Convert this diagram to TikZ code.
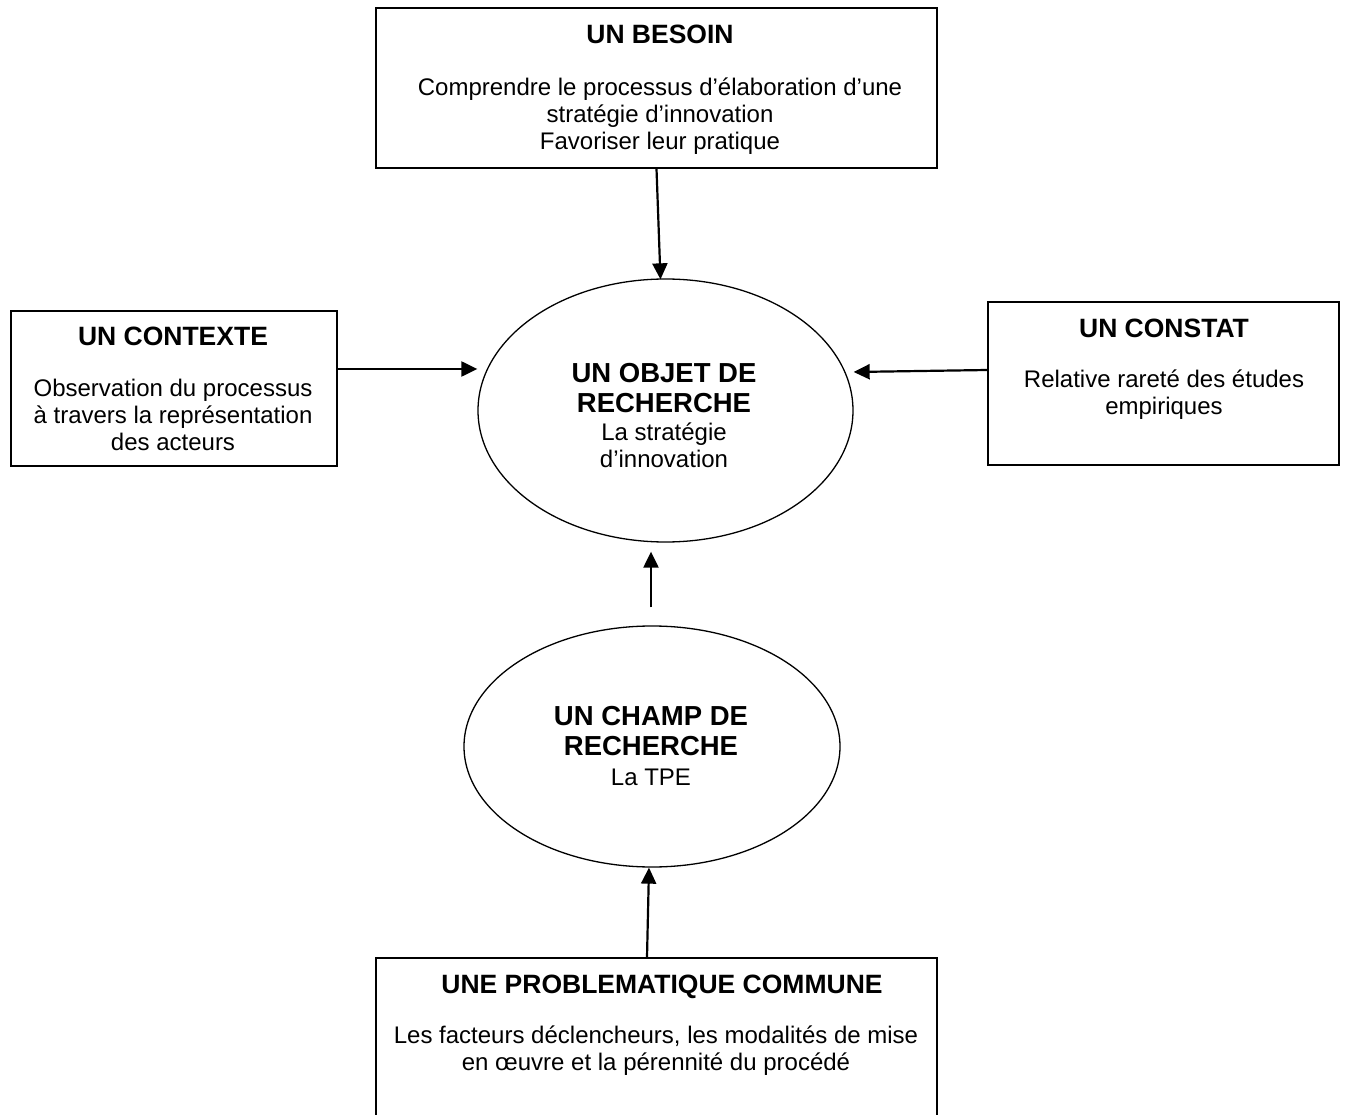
\documentclass[tikz,border=0pt]{standalone}
\usepackage{fontspec}
\setmainfont{Liberation Sans}
\usetikzlibrary{arrows.meta,calc,shapes.geometric}
\newcommand\myStrut{\rule{0pt}{24pt}}
\begin{document}
\begin{tikzpicture}[x=1pt,y=-1pt,
  rectbox/.style={draw, line width=1.3pt, rectangle, inner sep=0pt},
  oval/.style={draw, line width=1.3pt, ellipse, inner sep=0pt},
  ttl/.style={inner sep=0pt, align=center, font=\bfseries\fontsize{26.5}{30}\selectfont},
  ottl/.style={inner sep=0pt, align=center, font=\bfseries\fontsize{27.5}{30}\selectfont},
  bdy/.style={inner sep=0pt, align=center, font=\fontsize{24}{27}\selectfont},
  arr/.style={line width=2.2pt, -{Triangle[width=15pt,length=16pt]}}]
\clip (0,0) rectangle (1345,1115);
\fill[white] (0,0) rectangle (1345,1115);

% shapes
\node[rectbox, minimum width=561pt, minimum height=160pt] (besoin) at (656.5,88) {};
\node[rectbox, minimum width=326pt, minimum height=155pt] (contexte) at (174,388.5) {};
\node[rectbox, minimum width=351pt, minimum height=163pt] (constat) at (1163.5,383.5) {};
\node[rectbox, minimum width=561pt, minimum height=172pt] (prob) at (656.5,1044) {};
\node[oval, minimum width=375pt, minimum height=263pt] (objet) at (665.5,410.5) {};
\node[oval, minimum width=376pt, minimum height=241pt] (champ) at (652,746.5) {};

% texts
\node[ttl, anchor=base] (besoinT) at (660,44) {UN BESOIN};
\node[bdy, anchor=north] (besoinB) at (660,71) {\myStrut Comprendre le processus d’élaboration d’une\\ stratégie d’innovation\\ Favoriser leur pratique};

\node[ttl, anchor=base] (contexteT) at (173,346) {UN CONTEXTE};
\node[bdy, anchor=north] (contexteB) at (173,372) {\myStrut Observation du processus\\ à travers la représentation\\ des acteurs};

\node[ttl, anchor=base] (constatT) at (1164,338) {UN CONSTAT};
\node[bdy, anchor=north] (constatB) at (1164,363) {\myStrut Relative rareté des études\\ empiriques};

\node[ottl, anchor=north] (objetT) at (664,358) {\myStrut UN OBJET DE\\ RECHERCHE};
\node[bdy, anchor=north] (objetB) at (664,416) {\myStrut La stratégie\\ d’innovation};

\node[ottl, anchor=north] (champT) at (651,701) {\myStrut UN CHAMP DE\\ RECHERCHE};
\node[bdy, anchor=base] (champB) at (651,785) {La TPE};

\node[ttl, anchor=base] (probT) at (662,993) {UNE PROBLEMATIQUE COMMUNE};
\node[bdy, anchor=north] (probB) at (656,1019) {\myStrut Les facteurs déclencheurs, les modalités de mise\\ en œuvre et la pérennité du procédé};

% connectors
\draw[arr] (besoin.south) -- ($(objet.north)+(-5,1)$);
\draw[arr] ($(contexte.east)+(0,-19.5)$) -- ($(objet.west)+(0,-41.5)$);
\draw[arr] ($(constat.west)+(0,-13.5)$) -- ($(objet.east)+(0,-38.5)$);
\draw[arr] ($(champ.north)+(-1,-18)$) -- ($(objet.south)+(-14.5,9)$);
\draw[arr] ($(prob.north)+(-9.5,0)$) -- ($(champ.south)+(-3,0)$);
\end{tikzpicture}
\end{document}
